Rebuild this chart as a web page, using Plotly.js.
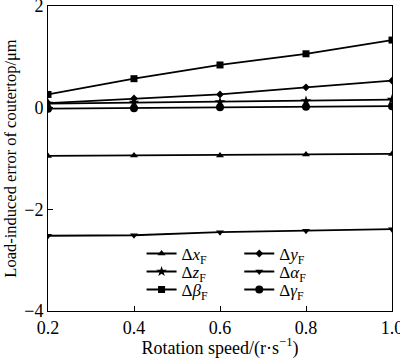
<!DOCTYPE html>
<html>
<head>
<meta charset="utf-8">
<script src="https://cdn.plot.ly/plotly-3.0.1.min.js"></script>
<style>html,body{margin:0;padding:0;background:#fff;}#chart{width:400px;height:359px;}</style>
</head>
<body>
<div id="chart"></div>
<script>
const speeds = [0.2, 0.4, 0.6, 0.8, 1.0];
const dxF = [-0.95, -0.94, -0.94, -0.92, -0.91];
const dyF = [0.09, 0.18, 0.26, 0.40, 0.53];
const dzF = [0.08, 0.10, 0.11, 0.13, 0.16];
const dalphaF = [-2.52, -2.51, -2.45, -2.42, -2.39];
const dbetaF = [0.26, 0.57, 0.84, 1.06, 1.33];
const dgammaF = [-0.02, -0.01, 0.01, 0.02, 0.03];

const seriesNames = ['Δ<i>x</i><sub>F</sub>', 'Δ<i>y</i><sub>F</sub>', 'Δ<i>z</i><sub>F</sub>', 'Δ<i>α</i><sub>F</sub>', 'Δ<i>β</i><sub>F</sub>', 'Δ<i>γ</i><sub>F</sub>'];
const seriesData = [dxF, dyF, dzF, dalphaF, dbetaF, dgammaF];
const symbols = ['triangle-up', 'diamond', 'star', 'triangle-down', 'square', 'circle'];
const sizes = [7, 6, 8, 7, 7, 8];
const legendIds = ['legend', 'legend2', 'legend3', 'legend4', 'legend5', 'legend6'];

const traces = seriesData.map((ys, i) => ({
  x: speeds, y: ys, name: seriesNames[i], type: 'scatter', mode: 'lines+markers',
  line: {color: '#000', width: 1.8},
  marker: {symbol: symbols[i], size: sizes[i], color: '#000'},
  legend: legendIds[i]
}));

const fam = '"Liberation Serif", "Times New Roman", serif';
const font = {family: fam, size: 18, color: '#000'};

const layout = {
  width: 400, height: 359,
  margin: {l: 48, r: 8, t: 6, b: 48},
  paper_bgcolor: '#fff', plot_bgcolor: '#fff',
  font: font,
  showlegend: true,
  xaxis: {
    range: [0.2, 1.0], tickvals: speeds, tickformat: '.1f',
    ticks: 'inside', ticklen: 5, tickcolor: '#000', tickwidth: 1,
    showline: true, linecolor: '#000', linewidth: 1, mirror: true,
    showgrid: false, zeroline: false, ticklabeloverflow: 'allow',
    title: {text: 'Rotation speed/(r·s<sup>−1</sup>)', font: font, standoff: 1},
    tickfont: font
  },
  yaxis: {
    range: [-4, 2], dtick: 2, tick0: 0,
    ticks: 'inside', ticklen: 5, tickcolor: '#000', tickwidth: 1,
    showline: true, linecolor: '#000', linewidth: 1, mirror: true,
    showgrid: false, zeroline: false, ticklabeloverflow: 'allow',
    title: {text: 'Load-induced error of coutertop/μm', font: {family: fam, size: 16.5, color: '#000'}, standoff: 3},
    tickfont: font
  }
};

// legend grid: 2 columns x 3 rows
const colX = [0.272, 0.556];
const rowY = [0.187, 0.128, 0.069];
legendIds.forEach((id, i) => {
  layout[id] = {
    x: colX[i % 2], y: rowY[Math.floor(i / 2)], xanchor: 'left', yanchor: 'middle',
    bgcolor: 'rgba(0,0,0,0)', borderwidth: 0, itemwidth: 30,
    font: {family: fam, size: 17, color: '#000'}
  };
});

Plotly.newPlot('chart', traces, layout, {displayModeBar: false, staticPlot: true});
</script>
</body>
</html>
